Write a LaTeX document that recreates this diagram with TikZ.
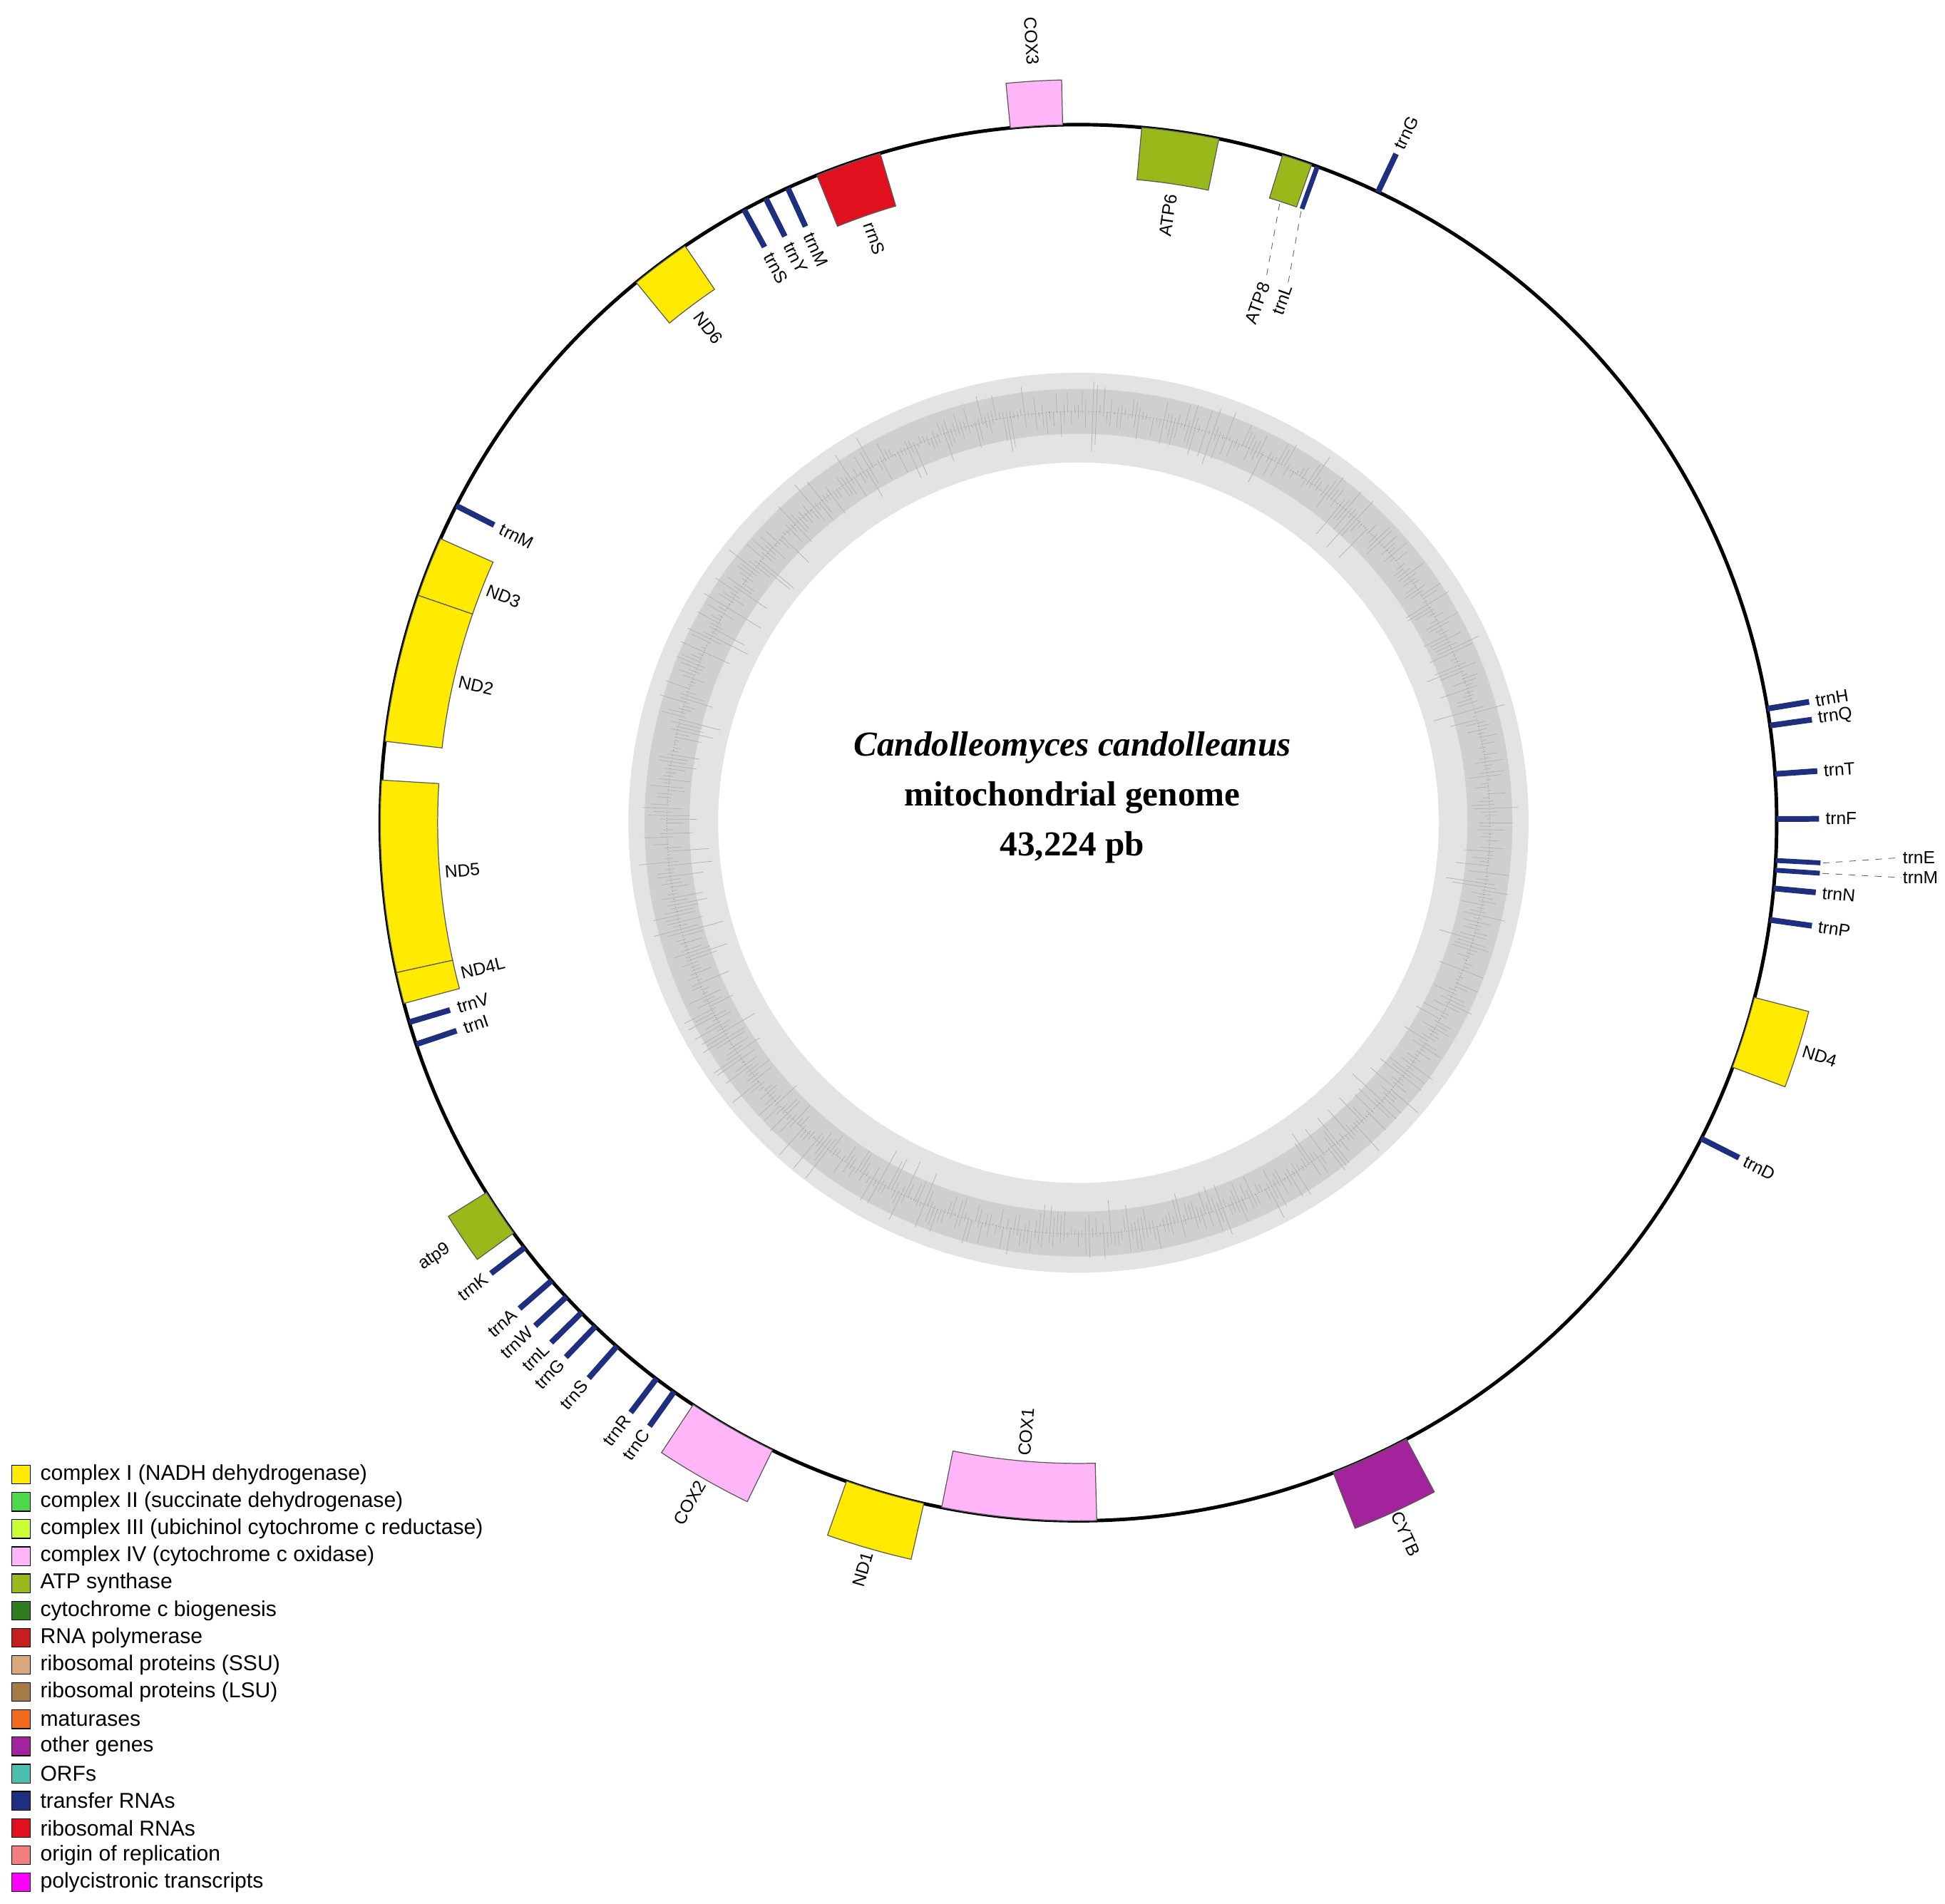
\documentclass[tikz,border=0pt]{standalone}
\usepackage{fontspec}
\setmainfont{Liberation Serif}
\newfontfamily\lsans{Liberation Sans}
\definecolor{cI}{HTML}{FFEA00}
\definecolor{cII}{HTML}{4CD94C}
\definecolor{cIII}{HTML}{CCFF33}
\definecolor{cIV}{HTML}{FFB5F7}
\definecolor{atp}{HTML}{99B81A}
\definecolor{cytc}{HTML}{2E7D1F}
\definecolor{rpol}{HTML}{C41E1E}
\definecolor{ssu}{HTML}{D9A77A}
\definecolor{lsu}{HTML}{A67C45}
\definecolor{mat}{HTML}{F26B1D}
\definecolor{oth}{HTML}{A3239C}
\definecolor{orf}{HTML}{4DBFB0}
\definecolor{trn}{HTML}{1F2F80}
\definecolor{rrn}{HTML}{E0101E}
\definecolor{ori}{HTML}{F28080}
\definecolor{poly}{HTML}{FF00FF}
\tikzset{
 genebox/.style={draw=black!65, line width=0.4pt},
 trnline/.style={draw=trn, line width=2.6pt},
 glab/.style={font=\lsans\fontsize{8}{9}\selectfont, inner sep=0.5pt},
 legbox/.style={draw=black, line width=0.4pt, minimum size=0.3cm, inner sep=0pt},
 legtext/.style={font=\lsans\fontsize{9.8}{11}\selectfont, anchor=west, inner sep=0pt},
 leader/.style={draw=black!60, line width=0.3pt, dashed},
 spike/.style={draw=gray!60, line width=0.25pt},
}
\newcommand\glabel[5]{%
 \pgfmathsetmacro\rot{90-(#2)}%
 \pgfmathtruncatemacro\fl{ifthenelse(\rot>90,1,ifthenelse(\rot<=-90,1,0))}%
 \pgfmathsetmacro\rr{ifthenelse(\rot>90,\rot-180,ifthenelse(\rot<=-90,\rot+180,\rot))}%
 \def\tmpo{#4}\def\tmpout{out}%
 \ifx\tmpo\tmpout
   \ifnum\fl=1 \def\anc{east}\else\def\anc{west}\fi
 \else
   \ifnum\fl=1 \def\anc{west}\else\def\anc{east}\fi
 \fi
 \node[glab, rotate=\rr, anchor=\anc] (#1) at ({90-(#2)}:#3) {#5};}
\newcommand\gbox[8]{%
 \fill[genebox, fill=#6] ({90-(#2)}:#4) arc[start angle={90-(#2)}, end angle={90-(#3)}, radius=#4]
   -- ({90-(#3)}:#5) arc[start angle={90-(#3)}, end angle={90-(#2)}, radius=#5] -- cycle;
 \def\tmps{#8}\def\tmpout{out}%
 \ifx\tmps\tmpout \glabel{#1}{((#2)+(#3))/2}{608}{out}{#7}%
 \else \glabel{#1}{((#2)+(#3))/2}{511}{in}{#7}\fi}
\newcommand\tout[3]{\draw[trnline] ({90-(#2)}:560) -- ({90-(#2)}:594); \glabel{#1}{#2}{598}{out}{#3}}
\newcommand\tin[3]{\draw[trnline] ({90-(#2)}:560) -- ({90-(#2)}:526); \glabel{#1}{#2}{521}{in}{#3}}
\begin{document}
\begin{tikzpicture}[x=0.02cm,y=0.02cm]
\useasboundingbox (0,0) rectangle (1560,1527);
\begin{scope}[shift={(865,867)}]
 \fill[gray!22, even odd rule] (0,0) circle[radius=361] (0,0) circle[radius=289];
 \fill[gray!38, even odd rule] (0,0) circle[radius=348] (0,0) circle[radius=312];
 \pgfmathsetseed{11}
 \foreach \i in {0,...,719}{
   \pgfmathsetmacro\a{\i/2}
   \pgfmathsetmacro\h{330+rnd*rnd*30}
   \pgfmathsetmacro\g{330-rnd*rnd*36}
   \draw[spike] (\a:\g) -- (\a:\h);
 }
 \draw[black!60, line width=0.2pt, densely dotted] (0,0) circle[radius=330];
 \draw[black, line width=1.6pt] (0,0) circle[radius=560];
 \node[font=\fontsize{16}{18}\selectfont\bfseries\itshape] (title) at (-5,60) {Candolleomyces candolleanus};
 \node[font=\fontsize{16}{18}\selectfont\bfseries] (sub) at (-5,20) {mitochondrial genome};
 \node[font=\fontsize{16}{18}\selectfont\bfseries] (size) at (-5,-20) {43,224 pb};
 \gbox{COX3}{-5.6}{-1.3}{560}{596}{cIV}{COX3}{out}
 \gbox{ATP6}{5.2}{11.6}{518}{560}{atp}{ATP6}{in}
 \fill[genebox, fill=atp] (90-17:560) arc[start angle=73, end angle=70.5, radius=560] -- (70.5:524) arc[start angle=70.5, end angle=73, radius=524] -- cycle;
 \draw[trnline, line width=2.2pt] (90-20:560) -- (90-20:524);
 \coordinate (a8) at (90-18:522);
 \coordinate (tl) at (90-20:522);
 \node[glab, rotate=70, anchor=east] (ATP8) at (150,434) {ATP8};
 \node[glab, rotate=70, anchor=east] (trnL1) at (168,432) {trnL};
 \draw[leader] (a8) -- (ATP8.east);
 \draw[leader] (tl) -- (trnL1.east);
 \tout{trnG}{25.4}{trnG}
 \gbox{rrnS}{-22}{-16.5}{516}{560}{rrn}{rrnS}{in}
 \tin{trnM1}{-24.6}{trnM}
 \tin{trnY}{-26.6}{trnY}
 \tin{trnS1}{-28.6}{trnS}
 \gbox{ND6}{-39.3}{-34.3}{518}{560}{cI}{ND6}{in}
 \tin{trnM2}{-63}{trnM}
 \gbox{ND3}{-71}{-66}{514}{560}{cI}{ND3}{in}
 \gbox{ND2}{-83.3}{-71}{514}{560}{cI}{ND2}{in}
 \gbox{ND5}{-102.4}{-86.5}{514}{560}{cI}{ND5}{in}
 \gbox{ND4L}{-105}{-102.4}{514}{560}{cI}{ND4L}{in}
 \tin{trnV}{-106.6}{trnV}
 \tin{trnI}{-108.5}{trnI}
 \gbox{atp9}{-126}{-122}{560}{596}{atp}{atp9}{out}
 \tout{trnK}{-127.5}{trnK}
 \tout{trnA}{-131}{trnA}
 \tout{trnW}{-132.8}{trnW}
 \tout{trnL2}{-134.6}{trnL}
 \tout{trnG2}{-136.2}{trnG}
 \tout{trnS2}{-138.6}{trnS}
 \tout{trnR}{-142.8}{trnR}
 \tout{trnC}{-144.6}{trnC}
 \gbox{COX2}{-154}{-146.5}{560}{606}{cIV}{COX2}{out}
 \gbox{ND1}{-167.2}{-160.6}{560}{606}{cI}{ND1}{out}
 \gbox{COX1}{-181.5}{-168.7}{514}{560}{cIV}{COX1}{in}
 \gbox{CYTB}{152}{158.6}{560}{608}{oth}{CYTB}{out}
 \tout{trnD}{116.9}{trnD}
 \gbox{ND4}{104.5}{110.5}{560}{605}{cI}{ND4}{out}
 \tout{trnP}{98}{trnP}
 \tout{trnN}{95.4}{trnN}
 \draw[trnline, line width=2.2pt] (90-93.1:560) -- (90-93.1:596);
 \draw[trnline, line width=2.2pt] (90-93.9:560) -- (90-93.9:596);
 \node[glab, anchor=west] (trnE) at (660,-28) {trnE};
 \node[glab, anchor=west] (trnM3) at (660,-44) {trnM};
 \draw[leader] (90-93.1:598) -- (trnE.west);
 \draw[leader] (90-93.9:598) -- (trnM3.west);
 \tout{trnF}{89.7}{trnF}
 \tout{trnT}{86}{trnT}
 \tout{trnQ}{82}{trnQ}
 \tout{trnH}{80.6}{trnH}
\end{scope}
\foreach \c/\t [count=\i from 0] in {
 cI/{complex I (NADH dehydrogenase)},
 cII/{complex II (succinate dehydrogenase)},
 cIII/{complex III (ubichinol cytochrome c reductase)},
 cIV/{complex IV (cytochrome c oxidase)},
 atp/{ATP synthase},
 cytc/{cytochrome c biogenesis},
 rpol/{RNA polymerase},
 ssu/{ribosomal proteins (SSU)},
 lsu/{ribosomal proteins (LSU)},
 mat/{maturases},
 oth/{other genes},
 orf/{ORFs},
 trn/{transfer RNAs},
 rrn/{ribosomal RNAs},
 ori/{origin of replication},
 poly/{polycistronic transcripts}}{
 \node[legbox, fill=\c] (lb\i) at (17,{1527-1183-\i*21.8}) {};
 \node[legtext] (lt\i) at (32,{1527-1183-\i*21.8}) {\t};
}
\end{tikzpicture}
\end{document}
